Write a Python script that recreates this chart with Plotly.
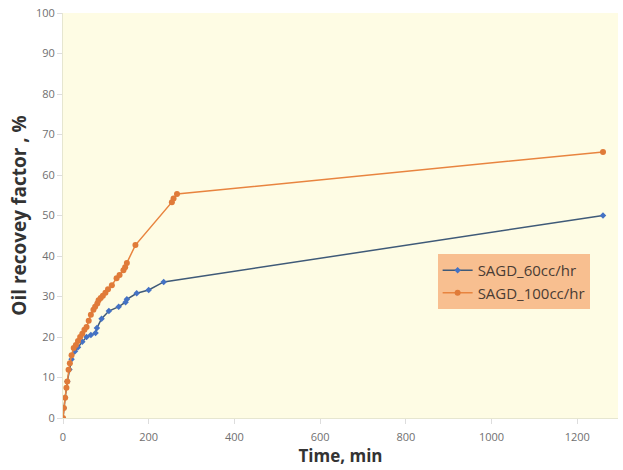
import plotly.graph_objects as go

# SAGD 60 cc/hr
t60 = [0, 2, 5, 10, 15, 20, 28, 35, 45, 55, 65, 76, 79, 90, 107, 130, 146, 149, 172, 200, 235, 1260]
rf60 = [0, 2.5, 5, 9, 12, 14.5, 16.5, 17.5, 18.8, 20, 20.5, 21, 22.2, 24.5, 26.4, 27.5, 28.6, 29.3, 30.8, 31.6, 33.6, 50]

# SAGD 100 cc/hr
t100 = [0, 2, 5, 8, 10, 13, 16, 20, 25, 30, 35, 40, 45, 50, 55, 60, 65, 71, 75, 80, 83, 88, 93, 99,
        105, 114, 125, 132, 141, 145, 149, 169, 254, 258, 266, 1260]
rf100 = [0, 2.5, 5, 7.5, 9, 11.9, 13.5, 15.5, 17.3, 18, 19, 20, 20.8, 21.8, 22.5, 24, 25.5, 26.7, 27.5, 28.3, 29.1, 29.6, 30.2, 30.9,
         31.8, 32.8, 34.5, 35.3, 36.5, 37.2, 38.3, 42.7, 53.3, 54.2, 55.3, 65.7]

fig = go.Figure()
fig.add_trace(go.Scatter(
    x=t60, y=rf60, name="SAGD_60cc/hr", mode="lines+markers",
    line=dict(color="#3f5a78", width=1.5),
    marker=dict(color="#4472c4", symbol="diamond", size=5),
))
fig.add_trace(go.Scatter(
    x=t100, y=rf100, name="SAGD_100cc/hr", mode="lines+markers",
    line=dict(color="#e8843f", width=1.5),
    marker=dict(color="#e07b39", symbol="circle", size=6),
))

fig.update_layout(
    width=623, height=470,
    margin=dict(l=63, r=5, t=13, b=52),
    paper_bgcolor="white",
    plot_bgcolor="#fefce4",
    font=dict(family="Open Sans", color="#707070", size=11),
    showlegend=True,
    legend=dict(
        x=0.675, y=0.405, xanchor="left", yanchor="top",
        bgcolor="#f8bf90", borderwidth=0,
        font=dict(size=15, color="#4a3c34"),
        tracegroupgap=2, itemwidth=30,
    ),
    xaxis=dict(
        range=[0, 1295], tickvals=[0, 200, 400, 600, 800, 1000, 1200],
        showgrid=False, zeroline=False, showline=True, linecolor="#e6e6d0",
        ticks="outside", ticklen=5, tickcolor="#dddddd", ticklabelstandoff=4,
        title=dict(text="<b>Time, min</b>", font=dict(size=17, color="#333333", family="Open Sans"), standoff=0),
    ),
    yaxis=dict(
        range=[0, 100], tickvals=list(range(0, 101, 10)),
        showgrid=False, zeroline=False, showline=True, linecolor="#e6e6d0",
        ticks="outside", ticklen=5, tickcolor="#dddddd",
        title=dict(text="<b>Oil recovey factor , %</b>", font=dict(size=19, color="#333333", family="Open Sans"), standoff=4),
    ),
)

fig.write_html("out.html")
